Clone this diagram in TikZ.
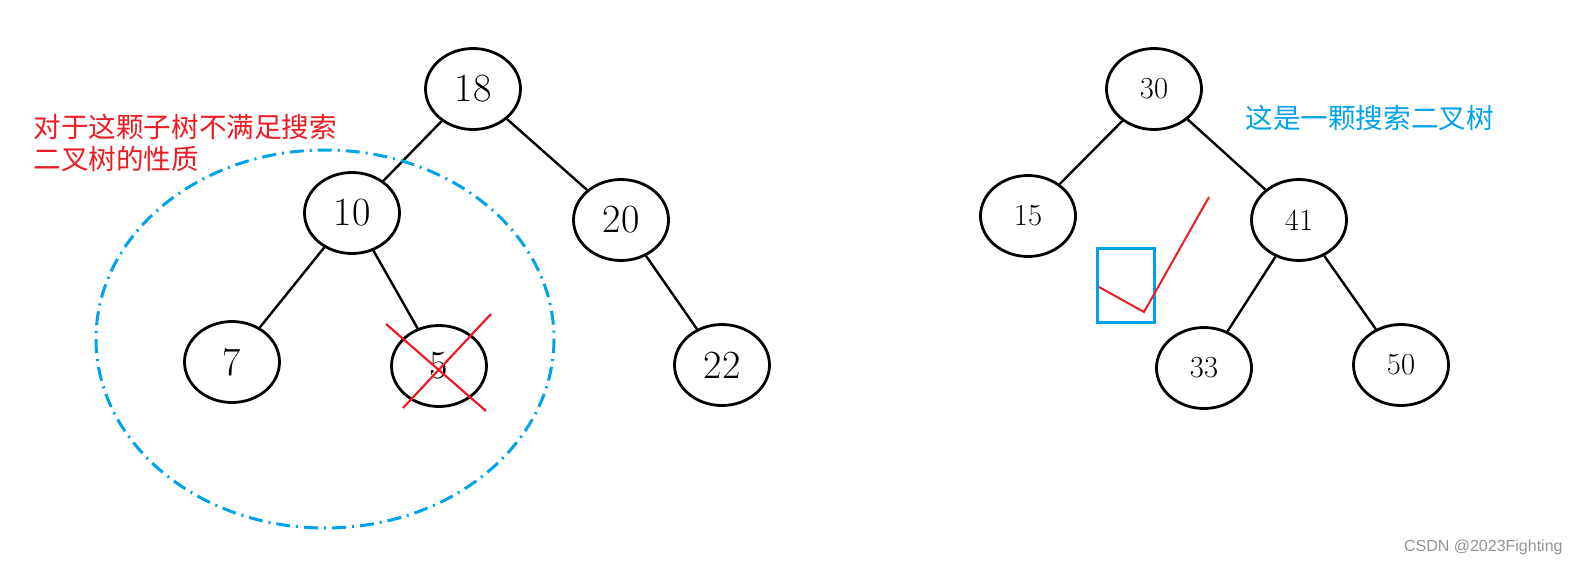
\documentclass[tikz,border=0pt]{standalone}
\usepackage{fontspec}
\newfontfamily\cjk{Noto Sans CJK SC}
\newfontfamily\wmfont{Liberation Sans}
\usetikzlibrary{shapes.geometric}
\usetikzlibrary{positioning}
\usetikzlibrary{calc}
\definecolor{paintred}{RGB}{237,28,36}
\definecolor{paintblue}{RGB}{0,162,232}
\tikzset{
    bignode/.style={draw=black, ellipse, line width=1.4pt, inner sep=0pt,
        minimum width=47.5pt, minimum height=40.5pt, font=\fontsize{20}{20}\selectfont},
    smallnode/.style={draw=black, ellipse, line width=1.4pt, inner sep=0pt,
        minimum width=47.5pt, minimum height=40.5pt, font=\fontsize{15.3}{15.3}\selectfont},
    branch/.style={draw=black, line width=1.2pt},
    cross/.style={draw=paintred, line width=1.1pt},
    subtree/.style={draw=paintblue, line width=1.5pt,
        dash pattern=on 7pt off 3pt on 1pt off 3pt},
    remark/.style={inner sep=0pt, font=\cjk\fontsize{13.8}{16}\selectfont},
}

\begin{document}
\begin{tikzpicture}[x=0.5pt, y=-0.5pt]
	\useasboundingbox (0,0) rectangle (1579,567);
	\begin{scope}
			\node[bignode] (n18) at (473,89) {18};
			\node[bignode] (n10) at (352,213) {10};
			\node[bignode] (n20) at (621,220) {20};
			\node[bignode] (n7) at (232,362) {7};
			\node[bignode] (n5) at (439,366) {5};
			\node[bignode] (n22) at (722,365) {22};
			\draw[branch] (n18)--(n10);
			\draw[branch] (n18)--(n20);
			\draw[branch] (n10)--(n7);
			\draw[branch] (n10)--(n5);
			\draw[branch] (n20)--(n22);
			\draw[cross] ($(n5)+(-53,-42)$)--($(n5)+(47,45)$);
			\draw[cross] ($(n5)+(52,-52)$)--($(n5)+(-36,42)$); %second stroke
			\draw[subtree] (325,339) ellipse [x radius=229, y radius=189];
			\node[remark, text=paintred, anchor=west, align=left] (bad) at (33,143)
				{对于这颗子树不满足搜索\\二叉树的性质};
	\end{scope}
	\begin{scope}
			\node[smallnode] (n30) at (1154,89) {30};
			\node[smallnode] (n15) at (1028,216) {15};
			\node[smallnode] (n41) at (1299,220) {41};
			\node[smallnode] (n33) at (1204,368) {33};
			\node[smallnode] (n50) at (1401,365) {50};
			\draw[branch] (n30)--(n15);
			\draw[branch] (n30)--(n41);
			\draw[branch] (n41)--(n33);
			\draw[branch] (n41)--(n50);
			\draw[draw=paintblue, line width=1.5pt] (1097,248) rectangle (1154,322);
			\draw[draw=paintred, line width=1pt] (1099,287)--(1144,312)--(1209,197);
			\node[remark, text=paintblue, anchor=west] (good) at (1245,118)
				{这是一颗搜索二叉树};
	\end{scope}
	\node[inner sep=0pt, anchor=east, text=black!42, font=\wmfont\fontsize{8}{8}\selectfont]
		(mark) at (1563,547) {CSDN @2023Fighting};
\end{tikzpicture}
\end{document}
